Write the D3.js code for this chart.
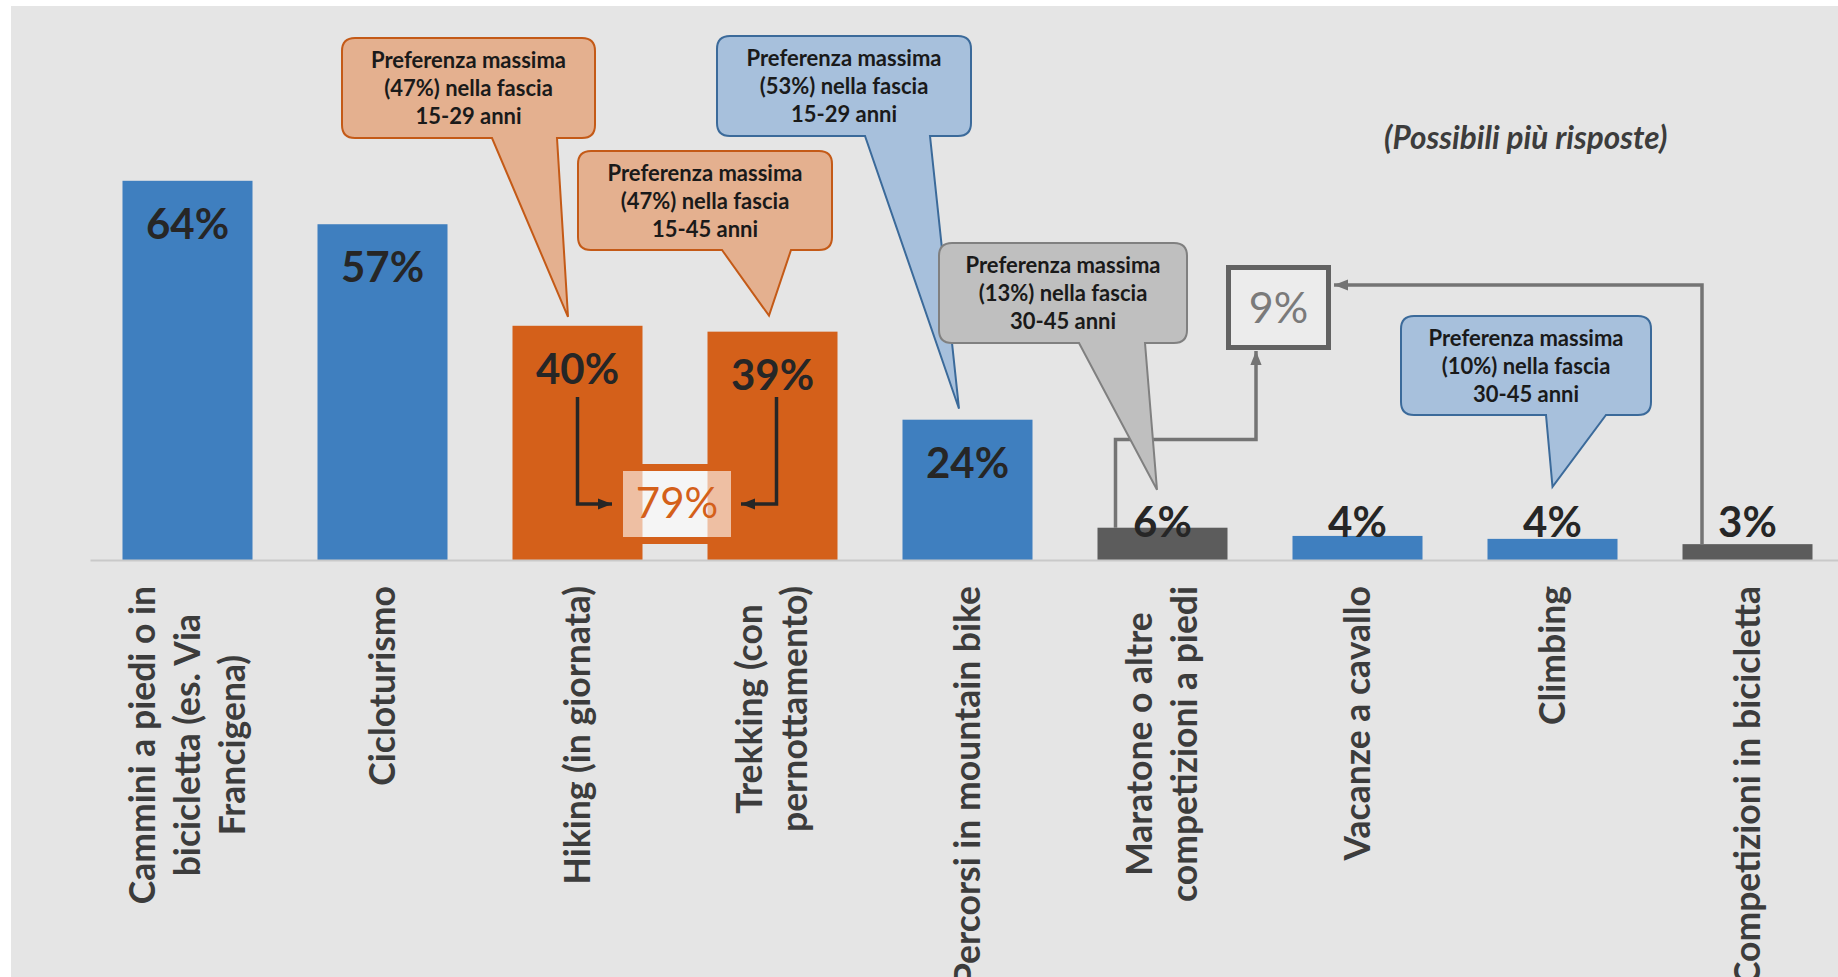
<!DOCTYPE html>
<html>
<head>
<meta charset="utf-8">
<script src="https://cdn.jsdelivr.net/npm/d3@7"></script>
<style>
  body { margin: 0; background: #fff; overflow: hidden; }
  svg { display: block; }
</style>
</head>
<body>
<script>
// dati
const categorie = ["Cammini", "Cicloturismo", "Hiking", "Trekking", "Mountain bike", "Maratone", "Cavallo", "Climbing", "Competizioni bici"]
const etichette = [
    ["Cammini a piedi o in", "bicicletta (es. Via", "Francigena)"],
    ["Cicloturismo"],
    ["Hiking (in giornata)"],
    ["Trekking (con", "pernottamento)"],
    ["Percorsi in mountain bike"],
    ["Maratone o altre", "competizioni a piedi"],
    ["Vacanze a cavallo"],
    ["Climbing"],
    ["Competizioni in bicicletta"]
]
const valori = [64.6, 57.2, 39.9, 38.9, 23.9, 5.5, 4.1, 3.6, 2.7]
const testiValori = ["64%", "57%", "40%", "39%", "24%", "6%", "4%", "4%", "3%"]
const gruppi = ["blu", "blu", "arancio", "arancio", "blu", "grigio", "blu", "blu", "grigio"]

// fumetti
const noteCategoria = ["Hiking", "Trekking", "Mountain bike", "Maratone", "Climbing"]
const noteTipo = ["arancio", "arancio", "blu", "grigio", "blu"]
const noteTesti = [
    ["Preferenza massima", "(47%) nella fascia", "15-29 anni"],
    ["Preferenza massima", "(47%) nella fascia", "15-45 anni"],
    ["Preferenza massima", "(53%) nella fascia", "15-29 anni"],
    ["Preferenza massima", "(13%) nella fascia", "30-45 anni"],
    ["Preferenza massima", "(10%) nella fascia", "30-45 anni"]
]
const totaleHikingTrekking = "79%"
const totaleCompetizioni = "9%"
const sottotitolo = "(Possibili più risposte)"

const W = 1838, H = 977
const colori = { blu: "#3f7fbf", arancio: "#d4601a", grigio: "#5c5c5c" }
const stileNote = {
    arancio: { fill: "#e4b08f", stroke: "#c45a17" },
    blu: { fill: "#a7c0dc", stroke: "#3b6a9a" },
    grigio: { fill: "#bfbfbf", stroke: "#808080" }
}

const svg = d3.select("body").append("svg")
    .attr("width", W)
    .attr("height", H)

svg.append("rect").attr("width", W).attr("height", H).attr("fill", "#fff")
svg.append("rect")
    .attr("x", 11).attr("y", 6)
    .attr("width", W - 11).attr("height", H - 6)
    .attr("fill", "#e5e5e5")

//frecce
const defs = svg.append("defs")
function marker(id, col) {
    defs.append("marker")
        .attr("id", id)
        .attr("viewBox", "0 0 10 10")
        .attr("refX", 10).attr("refY", 5)
        .attr("markerWidth", 14).attr("markerHeight", 14)
        .attr("markerUnits", "userSpaceOnUse")
        .attr("orient", "auto")
        .append("path")
        .attr("d", "M0,1 L10,5 L0,9 Z")
        .attr("fill", col)
}
marker("frecciaNera", "#262626")
marker("frecciaGrigia", "#747474")

//scale
const x = d3.scaleBand()
    .domain(categorie)
    .range([90, 1845])
    .paddingInner(1 / 3)
    .paddingOuter(1 / 6)

const y = d3.scaleLinear()
    .domain([0, 70])
    .range([560, 149.1])

const bw = x.bandwidth()
const cx = c => x(c) + bw / 2
const valoreDi = c => valori[categorie.indexOf(c)]

//barre
svg.append("g")
    .selectAll("rect")
    .data(categorie)
    .join("rect")
    .attr("x", d => x(d))
    .attr("y", (d, i) => y(valori[i]))
    .attr("width", bw)
    .attr("height", (d, i) => y(0) - y(valori[i]))
    .attr("fill", (d, i) => colori[gruppi[i]])

//asse x
svg.append("g")
    .attr("transform", "translate(0," + y(0) + ")")
    .call(d3.axisBottom(x).tickSize(0).tickFormat(""))
    .select(".domain")
    .attr("stroke", "#c9c9c9")
    .attr("stroke-width", 2)

//etichette categorie, ruotate
const lab = svg.append("g")
    .attr("font-family", "Lato")
    .attr("font-weight", "bold")
    .attr("font-size", 35.5)
    .attr("fill", "#3c3c3c")

categorie.forEach((c, i) => {
    const righe = etichette[i]
    const g = lab.append("g")
    const tt = righe.map(r => g.append("text").attr("text-anchor", "middle").text(r))
    const L = d3.max(tt, t => t.node().getComputedTextLength())
    const ym = y(0) + 26 + L / 2
    tt.forEach((t, j) => {
        const xb = cx(c) + (j - (righe.length - 1) / 2) * 45 + 12
        t.attr("transform", "translate(" + xb + "," + ym + ") rotate(-90)")
    })
})

//linee di collegamento 6% + 3% -> 9%
const grigioLinea = "#747474"
const xM = x("Maratone") + 18
svg.append("path")
    .attr("d", "M" + xM + "," + y(valoreDi("Maratone")) + "V439.5H1256V351")
    .attr("fill", "none")
    .attr("stroke", grigioLinea)
    .attr("stroke-width", 3.5)
    .attr("marker-end", "url(#frecciaGrigia)")

const xC = x("Competizioni bici") + 19.5
svg.append("path")
    .attr("d", "M" + xC + "," + y(valoreDi("Competizioni bici")) + "V285H1334")
    .attr("fill", "none")
    .attr("stroke", grigioLinea)
    .attr("stroke-width", 3.5)
    .attr("marker-end", "url(#frecciaGrigia)")

//riquadro 9%
svg.append("rect")
    .attr("x", 1228.5).attr("y", 267.5)
    .attr("width", 100).attr("height", 80)
    .attr("fill", "#ececec")
    .attr("stroke", "#626262")
    .attr("stroke-width", 5)
svg.append("text")
    .attr("x", 1278.5).attr("y", 323)
    .attr("text-anchor", "middle")
    .attr("font-family", "Lato")
    .attr("font-size", 43)
    .attr("fill", "#7a7a7a")
    .text(totaleCompetizioni)

//fumetti
function fumetto(x0, y0, x1, y1, b0, b1, tx, ty, r) {
    return "M" + (x0 + r) + "," + y0 + "H" + (x1 - r) + "Q" + x1 + "," + y0 + " " + x1 + "," + (y0 + r) +
        "V" + (y1 - r) + "Q" + x1 + "," + y1 + " " + (x1 - r) + "," + y1 +
        "H" + b1 + "L" + tx + "," + ty + "L" + b0 + "," + y1 +
        "H" + (x0 + r) + "Q" + x0 + "," + y1 + " " + x0 + "," + (y1 - r) +
        "V" + (y0 + r) + "Q" + x0 + "," + y0 + " " + (x0 + r) + "," + y0 + "Z"
}

// box [x0,y0,x1,y1], base punta [b0,b1], punta relativa al centro/top barra [dx,dy]
const layoutNote = [
    { box: [342, 38, 595, 138], base: [492, 557], punta: [-9.5, -9] },
    { box: [578, 151, 832, 250], base: [722, 791], punta: [-3.5, -16] },
    { box: [717, 36, 971, 136], base: [865, 930], punta: [-8.5, -11] },
    { box: [939, 243, 1187, 343], base: [1079, 1145], punta: [-5.5, -38] },
    { box: [1401, 316, 1651, 415], base: [1546, 1606], punta: [0, -52] }
]

noteCategoria.forEach((c, i) => {
    const l = layoutNote[i]
    const st = stileNote[noteTipo[i]]
    const tx = cx(c) + l.punta[0]
    const ty = y(valoreDi(c)) + l.punta[1]
    const g = svg.append("g")
    g.append("path")
        .attr("d", fumetto(l.box[0], l.box[1], l.box[2], l.box[3], l.base[0], l.base[1], tx, ty, 13))
        .attr("fill", st.fill)
        .attr("stroke", st.stroke)
        .attr("stroke-width", 2)
    const mx = (l.box[0] + l.box[2]) / 2
    const my = (l.box[1] + l.box[3]) / 2
    noteTesti[i].forEach((t, j) => {
        g.append("text")
            .attr("x", mx)
            .attr("y", my + (j - 1) * 28 + 8)
            .attr("text-anchor", "middle")
            .attr("font-family", "Lato")
            .attr("font-weight", "bold")
            .attr("font-size", 22)
            .attr("fill", "#1a1a1a")
            .text(t)
    })
})

//etichette valori
svg.append("g")
    .selectAll("text")
    .data(categorie)
    .join("text")
    .attr("x", d => cx(d))
    .attr("y", (d, i) => valori[i] > 10 ? y(valori[i]) + 58 : y(0) - 23)
    .attr("text-anchor", "middle")
    .attr("font-family", "Lato")
    .attr("font-weight", "bold")
    .attr("font-size", 42)
    .attr("fill", "#262626")
    .text((d, i) => testiValori[i])

//riquadro 79%
svg.append("rect")
    .attr("x", 619.5).attr("y", 467.5)
    .attr("width", 115).attr("height", 73)
    .attr("fill", "rgba(255,255,255,0.6)")
    .attr("stroke", colori.arancio)
    .attr("stroke-width", 7)
svg.append("text")
    .attr("x", 677).attr("y", 518)
    .attr("text-anchor", "middle")
    .attr("font-family", "Lato")
    .attr("font-size", 42)
    .attr("fill", colori.arancio)
    .text(totaleHikingTrekking)

//frecce 40% + 39% -> 79%
svg.append("path")
    .attr("d", "M" + cx("Hiking") + ",397V504H612")
    .attr("fill", "none")
    .attr("stroke", "#262626")
    .attr("stroke-width", 3.5)
    .attr("marker-end", "url(#frecciaNera)")
svg.append("path")
    .attr("d", "M" + (cx("Trekking") + 4) + ",397V504H741")
    .attr("fill", "none")
    .attr("stroke", "#262626")
    .attr("stroke-width", 3.5)
    .attr("marker-end", "url(#frecciaNera)")

//sottotitolo
svg.append("text")
    .attr("x", 1384).attr("y", 149)
    .attr("font-family", "Lato")
    .attr("font-weight", "bold")
    .attr("font-style", "italic")
    .attr("font-size", 31.5)
    .attr("fill", "#3c3c3c")
    .text(sottotitolo)
</script>
</body>
</html>
